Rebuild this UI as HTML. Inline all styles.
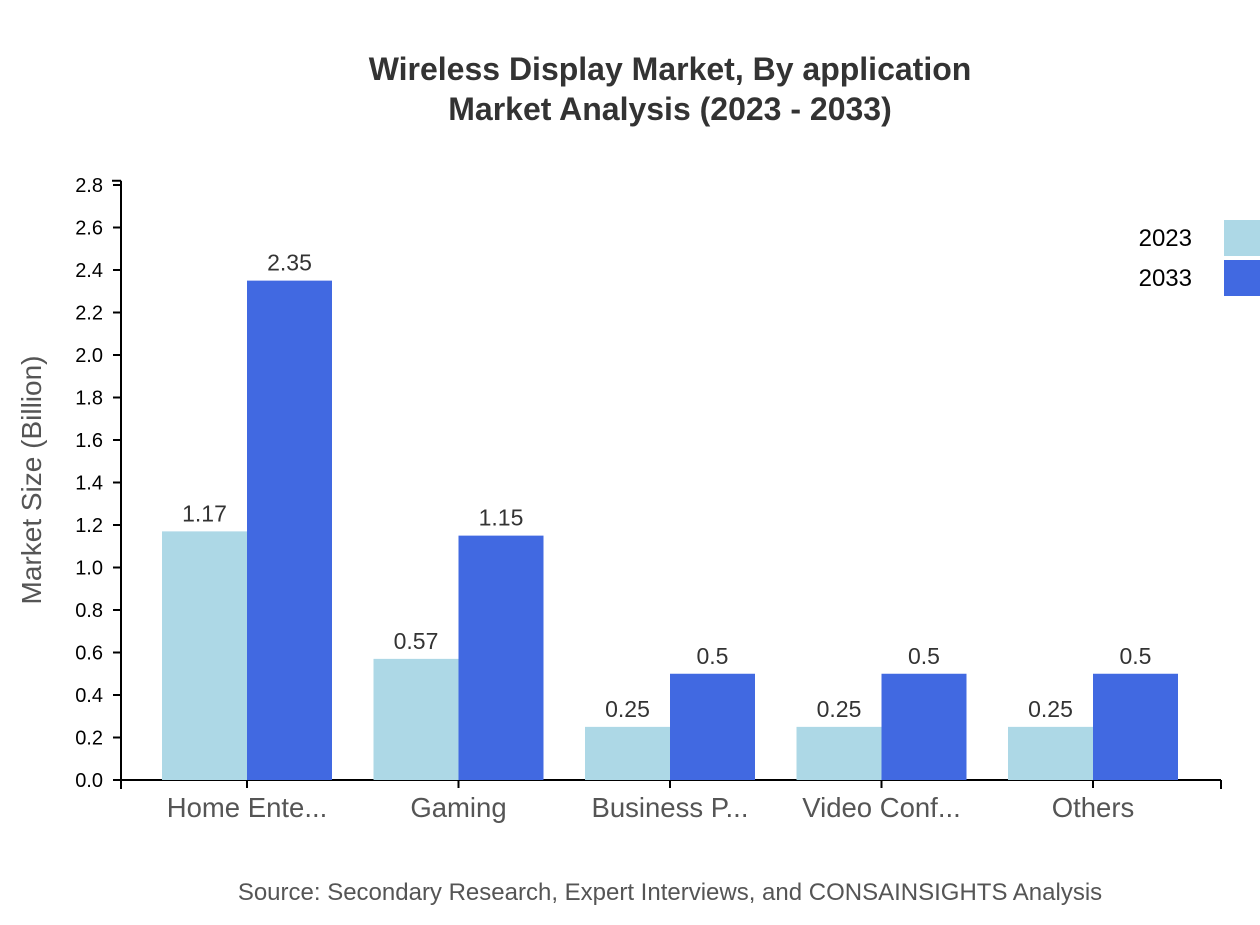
<!DOCTYPE html>
<html><head><meta charset="utf-8"><style>
body{margin:0;background:#fff;width:1260px;height:920px;overflow:hidden;font-family:"Liberation Sans",sans-serif}
</style></head><body>
<svg id="chart" width="1260" height="920" xmlns="http://www.w3.org/2000/svg" font-family="Liberation Sans, sans-serif">
<text x="670" y="80" text-anchor="middle" font-size="32" font-weight="bold" fill="#333">Wireless Display Market, By application</text>
<text x="670" y="120" text-anchor="middle" font-size="32" font-weight="bold" fill="#333">Market Analysis (2023 - 2033)</text>
<text transform="translate(41,480) rotate(-90)" text-anchor="middle" font-size="28" fill="#555">Market Size (Billion)</text>
<text x="670" y="900" text-anchor="middle" font-size="24" fill="#555">Source: Secondary Research, Expert Interviews, and CONSAINSIGHTS Analysis</text>
<g id="plot"></g>
<g>
<text x="1192" y="246" text-anchor="end" font-size="24" fill="#000">2023</text>
<rect x="1224" y="220" width="40" height="36" fill="#add8e6"/>
<text x="1192" y="286" text-anchor="end" font-size="24" fill="#000">2033</text>
<rect x="1224" y="260" width="40" height="36" fill="#4169e1"/>
</g>
</svg>
<script>
const categories=["Home Ente...","Gaming","Business P...","Video Conf...","Others"];
const values2023=[1.17,0.57,0.25,0.25,0.25];
const values2033=[2.35,1.15,0.5,0.5,0.5];
const yTicks=[0,0.2,0.4,0.6,0.8,1.0,1.2,1.4,1.6,1.8,2.0,2.2,2.4,2.6,2.8];
const NS="http://www.w3.org/2000/svg";
const g=document.getElementById('plot');
const y0=780,k=212.5,yMax=2.82,xL=121,xR=1221,x0=141.25,band=211.5,bw=85;
const y=v=>y0-v*k;
const cx=i=>x0+band*(i+0.5);
function mk(t,a,txt){const e=document.createElementNS(NS,t);for(const n in a)e.setAttribute(n,a[n]);if(txt!==undefined)e.textContent=txt;g.appendChild(e);return e;}
let e=mk('line',{x1:xL,x2:xL,y1:y(yMax),y2:y0,stroke:'#000','stroke-width':2});


e=mk('line',{x1:xL-9,x2:xL,y1:y(yMax),y2:y(yMax),stroke:'#000','stroke-width':2});


yTicks.forEach(t=>{
 e=mk('line',{x1:xL-8,x2:xL,y1:y(t),y2:y(t),stroke:'#000','stroke-width':2});
 
 
 e=mk('text',{x:xL-18,y:y(t)+7,'text-anchor':'end','font-size':20,fill:'#000'},t.toFixed(1));
 
 
});
e=mk('line',{x1:xL,x2:xR,y1:y0,y2:y0,stroke:'#000','stroke-width':2});


[xL,xR].forEach(x=>{e=mk('line',{x1:x,x2:x,y1:y0,y2:y0+9,stroke:'#000','stroke-width':2});
 
 });
categories.forEach((c,i)=>{
 const c0=cx(i);
 e=mk('line',{x1:c0,x2:c0,y1:y0,y2:y0+8,stroke:'#000','stroke-width':2});
 
 
 e=mk('text',{x:c0,y:y0+37,'text-anchor':'middle','font-size':27.5,fill:'#555'},c);
 
 
 [[values2023[i],'#add8e6',c0-bw,'2023'],[values2033[i],'#4169e1',c0,'2033']].forEach(([v,col,x,s])=>{
  e=mk('rect',{x:x,y:y(v),width:bw,height:v*k,fill:col});
  
  
  e=mk('text',{x:x+bw/2,y:y(v)-10,'text-anchor':'middle','font-size':23,fill:'#333'},String(v));
  
  
 });
});
</script>
</body></html>
